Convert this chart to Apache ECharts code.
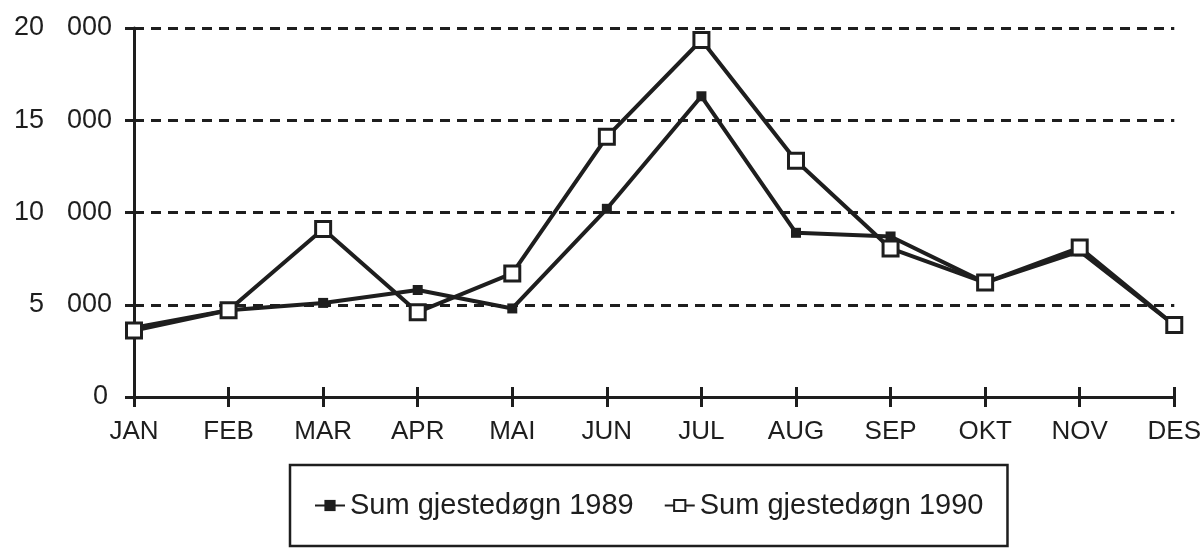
<!DOCTYPE html>
<html>
<head>
    <meta charset="utf-8">
    <title>Sum gjestedøgn</title>
    <script type="text/javascript" src="https://cdn.jsdelivr.net/npm/echarts@6/dist/echarts.min.js"></script>
    <style>
        body { margin: 0; background: #fff; }
    </style>
</head>
<body>
    <div id="main" style="width:1204px;height:553px;"></div>
    <script type="text/javascript">
    var months = ['JAN', 'FEB', 'MAR', 'APR', 'MAI', 'JUN', 'JUL', 'AUG', 'SEP', 'OKT', 'NOV', 'DES'];
    var sum1989 = [3750, 4700, 5100, 5800, 4800, 10200, 16300, 8900, 8700, 6200, 7900, 3900];
    var sum1990 = [3600, 4700, 9100, 4600, 6700, 14100, 19350, 12800, 8050, 6200, 8100, 3900];
    var names = ['Sum gjestedøgn 1989', 'Sum gjestedøgn 1990'];

    var ink = '#1e1e1e';
    var myChart = echarts.init(document.getElementById('main'));

    var option = {
        backgroundColor: '#fff',
        animation: false,
        textStyle: { fontFamily: 'Liberation Sans', color: ink },
        grid: {
            left: 134,
            right: 28,
            top: 28,
            bottom: 156
        },
        legend: {
            left: 290,
            top: 465,
            itemWidth: 30,
            itemHeight: 14,
            itemGap: 30,
            padding: [26, 24, 26, 24],
            borderColor: ink,
            borderWidth: 2.5,
            textStyle: { fontSize: 29, color: ink },
            data: names
        },
        xAxis: [{
            type: 'category',
            data: months,
            boundaryGap: false,
            axisLine: { lineStyle: { color: ink, width: 3 } },
            axisTick: { length: 10, lineStyle: { color: ink, width: 3 } },
            axisLabel: { margin: 22, fontSize: 26, color: ink }
        }, {
            // second copy only for the upward half of the ticks
            type: 'category',
            data: months,
            position: 'bottom',
            boundaryGap: false,
            axisLine: { show: false },
            axisTick: { inside: true, length: 10, lineStyle: { color: ink, width: 3 } },
            axisLabel: { show: false }
        }],
        yAxis: {
            type: 'value',
            min: 0,
            max: 20000,
            interval: 5000,
            axisLine: { show: true, lineStyle: { color: ink, width: 3 } },
            axisTick: { show: true, length: 9, lineStyle: { color: ink, width: 3 } },
            splitLine: {
                lineStyle: { color: ink, width: 3, type: [10, 7] }
            },
            axisLabel: {
                margin: 22,
                fontSize: 27,
                color: ink,
                formatter: function (v) {
                    if (v === 0) return '{z|0}';
                    return '{a|' + (v / 1000) + '}{b|000}';
                },
                rich: {
                    a: { fontSize: 27, color: ink, width: 31, align: 'right' },
                    b: { fontSize: 27, color: ink, padding: [0, 0, 0, 23] },
                    z: { fontSize: 27, color: ink, padding: [0, 4, 0, 0] }
                }
            }
        },
        series: [{
            name: names[0],
            type: 'line',
            data: sum1989,
            symbol: 'rect',
            symbolSize: 10,
            itemStyle: { color: ink },
            lineStyle: { color: ink, width: 4 },
            z: 2
        }, {
            name: names[1],
            type: 'line',
            data: sum1990,
            symbol: 'rect',
            symbolSize: 15,
            itemStyle: { color: '#fff', borderColor: ink, borderWidth: 3 },
            lineStyle: { color: ink, width: 4 },
            z: 3
        }]
    };
    myChart.setOption(option);
    </script>
</body>
</html>
